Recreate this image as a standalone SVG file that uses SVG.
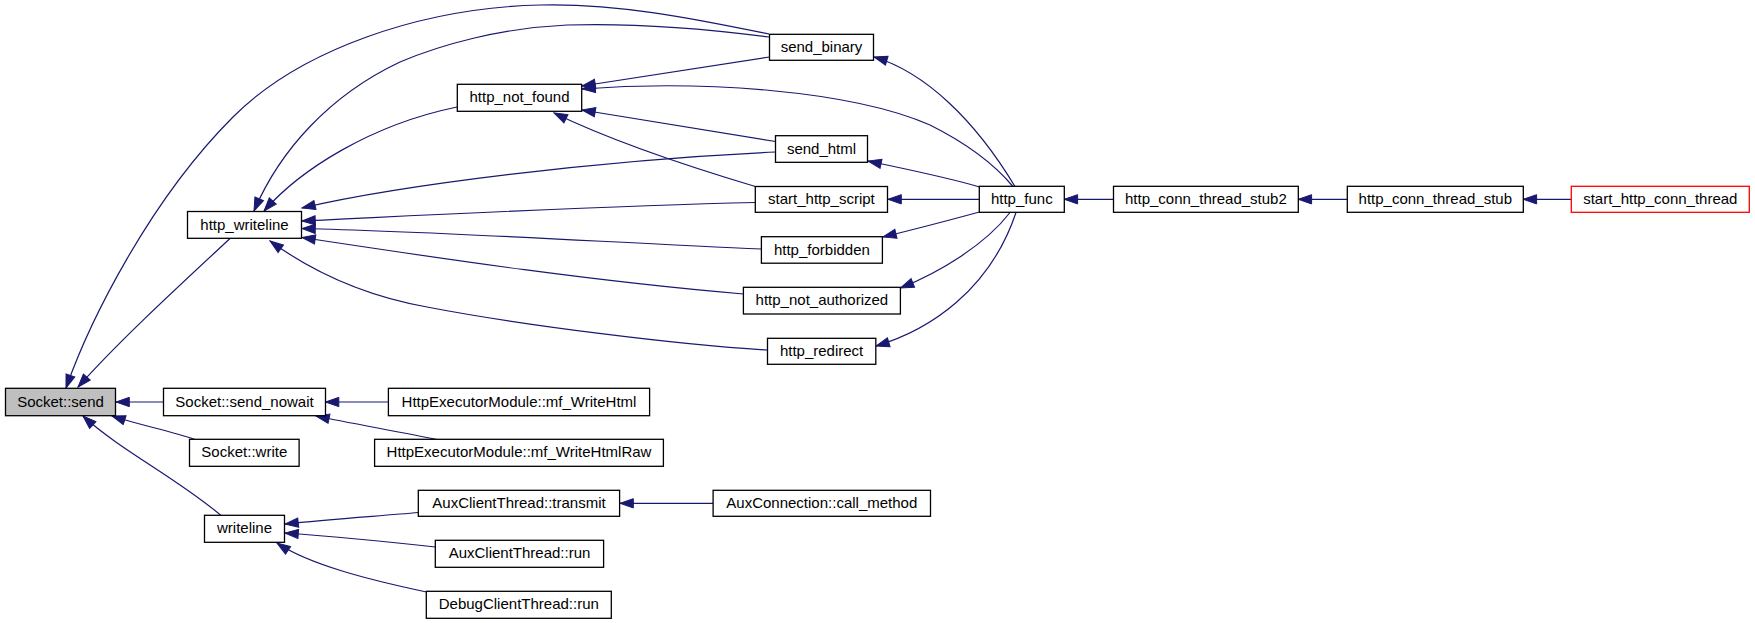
<svg xmlns="http://www.w3.org/2000/svg" width="1755" height="623" viewBox="0 0 1755 623">
<style>
.n rect{fill:#ffffff;stroke:#000000;stroke-width:1.3}
.n text{font-family:"Liberation Sans",Arial,sans-serif;font-size:15px;text-anchor:middle;fill:#000000}
.e path{fill:none;stroke:#191970;stroke-width:1.2;marker-start:url(#arr)}
</style>
<defs>
<marker id="arr" markerWidth="14" markerHeight="10" refX="13.3" refY="4.65" orient="auto-start-reverse" markerUnits="userSpaceOnUse" overflow="visible">
<path d="M0,0 L13.3,4.65 L0,9.3 z" fill="#191970" stroke="#191970" stroke-width="1"/>
</marker>
</defs>
<rect width="1755" height="623" fill="#ffffff"/>
<g class="e" id="edges">
<path d="M66,388 C90,320 150,200 233,117 C300,50 420,8 540,5 C620,3 700,20 769,34"/>
<path d="M254,211 C280,150 330,95 400,62 C440,45 500,28 567,25 C630,23 700,28 769,37"/>
<path d="M264,211 C300,170 370,125 457,107"/>
<path d="M302,208 C400,185 600,160 775.5,152"/>
<path d="M302,221 C450,214 600,206 755.5,202.5"/>
<path d="M302,228.5 C450,232 620,243 761.5,249"/>
<path d="M302,237.5 C450,260 600,282 743.5,294"/>
<path d="M270,241 C310,270 360,295 427,307 C520,325 680,345 767.5,350"/>
<path d="M78,387 C120,340 180,285 230,238.5"/>
<path d="M116,402 L163.5,402"/>
<path d="M112,416 C140,425 170,431 195,439.5"/>
<path d="M83,416 C120,450 180,480 221,515.5"/>
<path d="M325.5,402 L388.5,402"/>
<path d="M316,416 C350,423 400,432 437,439.5"/>
<path d="M285,524 C330,519 380,516 418.5,512.5"/>
<path d="M285,533 C340,537 390,542 435.5,547"/>
<path d="M277,543 C310,565 370,580 426.5,592"/>
<path d="M620,503.3 L713,503.3"/>
<path d="M582,86 L769.5,57"/>
<path d="M582,89 C700,80 850,90 930,125 C970,145 995,165 1013,186.5"/>
<path d="M582,110 L775.5,141.5"/>
<path d="M554,113 C620,145 700,170 757,187"/>
<path d="M874,57 C925,72 975,120 1015,186.5"/>
<path d="M868,161 C910,170 950,178 979.5,187"/>
<path d="M888,199.3 L979.5,199.3"/>
<path d="M883,237 C920,228 950,220 979.5,212"/>
<path d="M900.5,288 C940,272 985,245 1010,212.5"/>
<path d="M876,346 C930,330 990,290 1016,212.5"/>
<path d="M1064.3,199.3 L1113.5,199.3"/>
<path d="M1298.3,199.3 L1347.3,199.3"/>
<path d="M1523.3,199.3 L1571.3,199.3"/>
</g>
<g class="n" id="socket_send"><rect x="5.5" y="388.3" width="110" height="27.4" style="fill:#bfbfbf"/><text x="60.5" y="406.5">Socket::send</text></g>
<g class="n" id="http_writeline"><rect x="187.5" y="211.5" width="114" height="26.8"/><text x="244.5" y="229.5">http_writeline</text></g>
<g class="n" id="socket_send_nowait"><rect x="163.5" y="388.3" width="162" height="27.4"/><text x="244.5" y="406.5">Socket::send_nowait</text></g>
<g class="n" id="socket_write"><rect x="189.5" y="439.3" width="109.6" height="27"/><text x="244.3" y="457.3">Socket::write</text></g>
<g class="n" id="writeline"><rect x="204.5" y="515.3" width="80" height="27"/><text x="244.5" y="533.3">writeline</text></g>
<g class="n" id="http_not_found"><rect x="457.3" y="84.3" width="124.4" height="27"/><text x="519.5" y="102.3">http_not_found</text></g>
<g class="n" id="send_binary"><rect x="769.5" y="34.3" width="104" height="26"/><text x="821.5" y="51.8">send_binary</text></g>
<g class="n" id="send_html"><rect x="775.5" y="135.7" width="92" height="26.6"/><text x="821.5" y="153.5">send_html</text></g>
<g class="n" id="start_http_script"><rect x="755.3" y="186.5" width="132.2" height="25.8"/><text x="821.4" y="203.8">start_http_script</text></g>
<g class="n" id="http_forbidden"><rect x="761.4" y="236.7" width="121" height="26.5"/><text x="821.9" y="254.5">http_forbidden</text></g>
<g class="n" id="http_not_authorized"><rect x="743.4" y="287.3" width="157" height="26.7"/><text x="821.9" y="305.1">http_not_authorized</text></g>
<g class="n" id="http_redirect"><rect x="767.5" y="338.3" width="108.3" height="26"/><text x="821.6" y="355.8">http_redirect</text></g>
<g class="n" id="http_func"><rect x="979.3" y="186.3" width="85" height="26"/><text x="1021.8" y="203.8">http_func</text></g>
<g class="n" id="http_conn_thread_stub2"><rect x="1113.5" y="186.3" width="184.8" height="26"/><text x="1205.9" y="203.8">http_conn_thread_stub2</text></g>
<g class="n" id="http_conn_thread_stub"><rect x="1347.3" y="186.3" width="176" height="26"/><text x="1435.3" y="203.8">http_conn_thread_stub</text></g>
<g class="n" id="start_http_conn_thread"><rect x="1571.3" y="186.3" width="178" height="26" style="stroke:#ff0000"/><text x="1660.3" y="203.8">start_http_conn_thread</text></g>
<g class="n" id="mf_writehtml"><rect x="388.4" y="388.3" width="261.2" height="27.4"/><text x="519" y="406.5">HttpExecutorModule::mf_WriteHtml</text></g>
<g class="n" id="mf_writehtmlraw"><rect x="374.6" y="439.3" width="288.8" height="27"/><text x="519" y="457.3">HttpExecutorModule::mf_WriteHtmlRaw</text></g>
<g class="n" id="aux_transmit"><rect x="418.3" y="490.3" width="201.3" height="26"/><text x="519" y="507.8">AuxClientThread::transmit</text></g>
<g class="n" id="aux_run"><rect x="435.3" y="540.3" width="168.3" height="27"/><text x="519.5" y="558.3">AuxClientThread::run</text></g>
<g class="n" id="debug_run"><rect x="426.3" y="591.3" width="185" height="27"/><text x="518.8" y="609.3">DebugClientThread::run</text></g>
<g class="n" id="call_method"><rect x="713.1" y="490.3" width="217.4" height="26"/><text x="821.8" y="507.8">AuxConnection::call_method</text></g>
</svg>
